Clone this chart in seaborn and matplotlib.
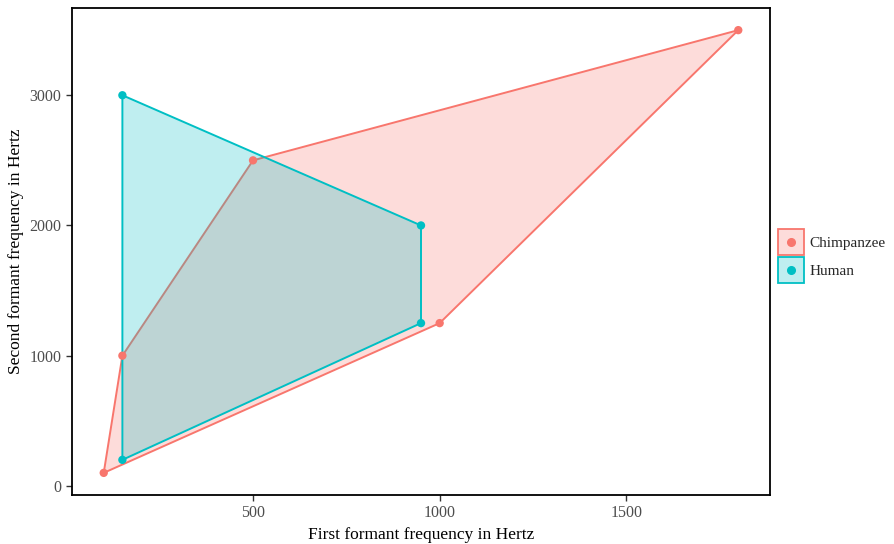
"""Formant polygons: chimpanzee vs human"""

import pandas as pd
import matplotlib
matplotlib.use('Agg')
import matplotlib.pyplot as plt
import seaborn as sns
from matplotlib.patches import Patch
from matplotlib.lines import Line2D
from matplotlib.legend_handler import HandlerBase
from matplotlib.colors import to_rgba

SPECIES = ['Chimpanzee', 'Human']
CHIMP_F1 = [100, 150, 500, 1800, 1000]
CHIMP_F2 = [100, 1000, 2500, 3500, 1250]
HUMAN_F1 = [150, 950, 950, 150]
HUMAN_F2 = [3000, 2000, 1250, 200]
COLORS = {'Chimpanzee': '#F8766D', 'Human': '#00BFC4'}
X_TICKS = [500, 1000, 1500]
Y_TICKS = [0, 1000, 2000, 3000]


class BoxDotHandler(HandlerBase):
    """legend key: light filled square with a dot in the middle (ggplot style)"""
    def create_artists(self, legend, orig, xd, yd, w, h, fs, trans):
        col = orig.get_gid()
        x0, y0 = -xd + 0.5, -yd + 0.5
        box = plt.Rectangle((x0, y0), w - 1, h - 1,
                            facecolor=to_rgba(col, 0.25), edgecolor=col,
                            lw=1.3, transform=trans)
        dot = Line2D([x0 + (w - 1) / 2], [y0 + (h - 1) / 2], marker='o',
                     color=col, markersize=5.5, linestyle='', transform=trans)
        return [box, dot]


df = pd.concat([
    pd.DataFrame({'f1': CHIMP_F1, 'f2': CHIMP_F2, 'species': 'Chimpanzee'}),
    pd.DataFrame({'f1': HUMAN_F1, 'f2': HUMAN_F2, 'species': 'Human'}),
])

sns.set_theme(style='white')
plt.rcParams['font.family'] = ['Liberation Serif', 'DejaVu Serif']

fig = plt.figure(figsize=(8.95, 5.44), dpi=100)
ax = fig.add_axes([72 / 895, 49 / 544, 698 / 895, 487 / 544])

for sp in SPECIES:
    sub = df[df['species'] == sp]
    ax.fill(sub['f1'], sub['f2'], facecolor=COLORS[sp], alpha=0.25,
            edgecolor='none')
    ax.fill(sub['f1'], sub['f2'], facecolor='none',
            edgecolor=COLORS[sp], lw=1.4)
sns.scatterplot(data=df, x='f1', y='f2', hue='species', hue_order=SPECIES,
                palette=COLORS, s=36, edgecolor='none', ax=ax, legend=False,
                zorder=3)

ax.set_xlim(15, 1885)
ax.set_ylim(-70, 3670)
ax.set_xticks(X_TICKS)
ax.set_yticks(Y_TICKS)
ax.tick_params(axis='both', length=4, width=1, color='#333333',
               labelsize=11.5, labelcolor='#4D4D4D', direction='out',
               bottom=True, left=True)
for s in ax.spines.values():
    s.set_color('black')
    s.set_linewidth(1.3)
ax.set_xlabel('First formant frequency in Hertz', fontsize=12.5, color='black')
ax.set_ylabel('Second formant frequency in Hertz', fontsize=12.5, color='black')

handles = []
for sp in SPECIES:
    h = Patch(label=sp)
    h.set_gid(COLORS[sp])
    handles.append(h)
leg = fig.legend(handles, SPECIES, handler_map={Patch: BoxDotHandler()},
                 loc='center left', bbox_to_anchor=(777 / 895, 1 - 256 / 544),
                 frameon=False, fontsize=11, handlelength=1.84,
                 handleheight=2.45, labelspacing=0.0, handletextpad=0.3,
                 borderpad=0, borderaxespad=0)

fig.savefig('out.png', dpi=100)
